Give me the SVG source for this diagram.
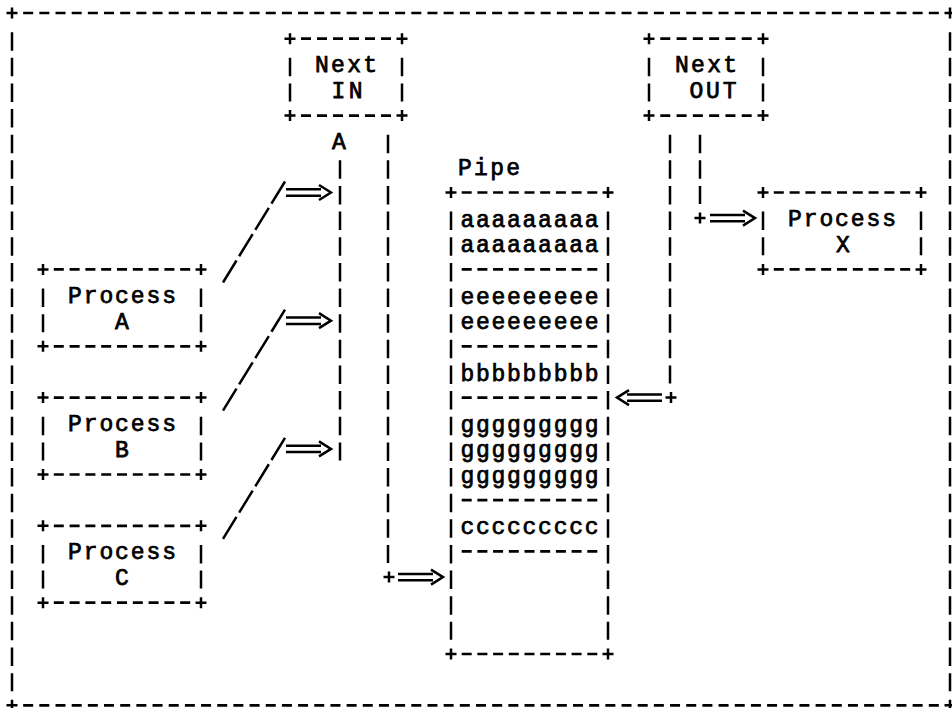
<svg xmlns="http://www.w3.org/2000/svg" xmlns:xlink="http://www.w3.org/1999/xlink" width="952" height="708" viewBox="0 0 952 708">
  <style>
    .ln { stroke: #000; stroke-width: 2.5; fill: none; }
    .h { stroke: #000; stroke-width: 2.7; fill: none; }
    .v { stroke: #000; stroke-width: 2.5; fill: none; stroke-dasharray: 18.5 7.14; }
    .sl { stroke: #000; stroke-width: 2.5; fill: none; stroke-dasharray: 25.9 5; }
    .t { font-family: "Liberation Mono", "DejaVu Sans Mono", monospace; font-size: 23px; fill: #000; stroke: #000; stroke-width: 0.75; text-anchor: middle; }
  </style>
  <defs>
    <path id="plus" class="ln" d="M-5.5,0H5.5M0,-5.5V5.5"/>
    <path id="arr-r" class="ln" d="M-45,-3.2H-10M-45,3.2H-10M-12,-7.5L0,0L-12,7.5"/>
    <path id="arr-l" class="ln" d="M45,-3.2H10M45,3.2H10M12,-7.5L0,0L12,7.5"/>
  </defs>
  <rect width="952" height="708" fill="#fff"/>

  <!-- outer frame -->
  <g id="frame">
    <line class="h" x1="23.17" y1="13" x2="938.83" y2="13" stroke-dasharray="10 6.172"/>
    <line class="h" x1="23.17" y1="705.3" x2="938.83" y2="705.3" stroke-dasharray="10 6.172"/>
    <line class="v" x1="12" y1="32.14" x2="12" y2="691.14"/>
    <line class="v" x1="950" y1="32.14" x2="950" y2="691.14"/>
    <use href="#plus" x="12" y="13"/>
    <use href="#plus" x="950" y="13"/>
    <use href="#plus" x="12" y="705.3"/>
    <use href="#plus" x="950" y="705.3"/>
  </g>

  <!-- Next IN -->
  <g id="next-in">
    <line class="h" x1="301" y1="38.64" x2="391" y2="38.64" stroke-dasharray="10 6"/>
    <line class="h" x1="301" y1="115.56" x2="391" y2="115.56" stroke-dasharray="10 6"/>
    <line class="v" x1="290" y1="57.78" x2="290" y2="101.42"/>
    <line class="v" x1="402" y1="57.78" x2="402" y2="101.42"/>
    <use href="#plus" x="290" y="38.64"/>
    <use href="#plus" x="402" y="38.64"/>
    <use href="#plus" x="290" y="115.56"/>
    <use href="#plus" x="402" y="115.56"/>
    <text class="t" x="346" y="72.3" textLength="62" lengthAdjust="spacing">Next</text>
    <text class="t" x="347" y="97.9" textLength="31" lengthAdjust="spacing">IN</text>
  </g>

  <!-- Next OUT -->
  <g id="next-out">
    <line class="h" x1="660.29" y1="38.64" x2="751.71" y2="38.64" stroke-dasharray="10 6.286"/>
    <line class="h" x1="660.29" y1="115.56" x2="751.71" y2="115.56" stroke-dasharray="10 6.286"/>
    <line class="v" x1="649" y1="57.78" x2="649" y2="101.42"/>
    <line class="v" x1="763" y1="57.78" x2="763" y2="101.42"/>
    <use href="#plus" x="649" y="38.64"/>
    <use href="#plus" x="763" y="38.64"/>
    <use href="#plus" x="649" y="115.56"/>
    <use href="#plus" x="763" y="115.56"/>
    <text class="t" x="706" y="72.3" textLength="62" lengthAdjust="spacing">Next</text>
    <text class="t" x="713" y="97.9" textLength="47" lengthAdjust="spacing">OUT</text>
  </g>

  <!-- Process X -->
  <g id="process-x">
    <line class="h" x1="773.8" y1="192.48" x2="910.2" y2="192.48" stroke-dasharray="10 5.8"/>
    <line class="h" x1="773.8" y1="269.4" x2="910.2" y2="269.4" stroke-dasharray="10 5.8"/>
    <line class="v" x1="763" y1="211.62" x2="763" y2="255.26"/>
    <line class="v" x1="921" y1="211.62" x2="921" y2="255.26"/>
    <use href="#plus" x="763" y="192.48"/>
    <use href="#plus" x="921" y="192.48"/>
    <use href="#plus" x="763" y="269.4"/>
    <use href="#plus" x="921" y="269.4"/>
    <text class="t" x="842" y="226.1" textLength="108" lengthAdjust="spacing">Process</text>
    <text class="t" x="843" y="251.8">X</text>
  </g>

  <!-- Process A -->
  <g id="process-a">
    <line class="h" x1="53.8" y1="269.4" x2="190.2" y2="269.4" stroke-dasharray="10 5.8"/>
    <line class="h" x1="53.8" y1="346.32" x2="190.2" y2="346.32" stroke-dasharray="10 5.8"/>
    <line class="v" x1="43" y1="288.54" x2="43" y2="332.18"/>
    <line class="v" x1="201" y1="288.54" x2="201" y2="332.18"/>
    <use href="#plus" x="43" y="269.4"/>
    <use href="#plus" x="201" y="269.4"/>
    <use href="#plus" x="43" y="346.32"/>
    <use href="#plus" x="201" y="346.32"/>
    <text class="t" x="122" y="303" textLength="108" lengthAdjust="spacing">Process</text>
    <text class="t" x="122" y="328.7">A</text>
  </g>

  <!-- Process B -->
  <g id="process-b">
    <line class="h" x1="53.8" y1="397.6" x2="190.2" y2="397.6" stroke-dasharray="10 5.8"/>
    <line class="h" x1="53.8" y1="474.52" x2="190.2" y2="474.52" stroke-dasharray="10 5.8"/>
    <line class="v" x1="43" y1="416.74" x2="43" y2="460.38"/>
    <line class="v" x1="201" y1="416.74" x2="201" y2="460.38"/>
    <use href="#plus" x="43" y="397.6"/>
    <use href="#plus" x="201" y="397.6"/>
    <use href="#plus" x="43" y="474.52"/>
    <use href="#plus" x="201" y="474.52"/>
    <text class="t" x="122" y="431.2" textLength="108" lengthAdjust="spacing">Process</text>
    <text class="t" x="122" y="456.9">B</text>
  </g>

  <!-- Process C -->
  <g id="process-c">
    <line class="h" x1="53.8" y1="525.8" x2="190.2" y2="525.8" stroke-dasharray="10 5.8"/>
    <line class="h" x1="53.8" y1="602.72" x2="190.2" y2="602.72" stroke-dasharray="10 5.8"/>
    <line class="v" x1="43" y1="544.94" x2="43" y2="588.58"/>
    <line class="v" x1="201" y1="544.94" x2="201" y2="588.58"/>
    <use href="#plus" x="43" y="525.8"/>
    <use href="#plus" x="201" y="525.8"/>
    <use href="#plus" x="43" y="602.72"/>
    <use href="#plus" x="201" y="602.72"/>
    <text class="t" x="122" y="559.4" textLength="108" lengthAdjust="spacing">Process</text>
    <text class="t" x="122" y="585.1">C</text>
  </g>

  <!-- Pipe with its queued records -->
  <g id="pipe">
    <text class="t" x="489" y="174.8" textLength="62" lengthAdjust="spacing">Pipe</text>
    <line class="h" x1="461.7" y1="192.48" x2="597.3" y2="192.48" stroke-dasharray="10 5.7"/>
    <line class="h" x1="461.7" y1="654" x2="597.3" y2="654" stroke-dasharray="10 5.7"/>
    <line class="v" x1="451" y1="211.62" x2="451" y2="639.86"/>
    <line class="v" x1="608" y1="211.62" x2="608" y2="639.86"/>
    <use href="#plus" x="451" y="192.48"/>
    <use href="#plus" x="608" y="192.48"/>
    <use href="#plus" x="451" y="654"/>
    <use href="#plus" x="608" y="654"/>
    <!-- record separators -->
    <line class="h" x1="461.7" y1="269.4" x2="597.3" y2="269.4" stroke-dasharray="10 5.7"/>
    <line class="h" x1="461.7" y1="346.32" x2="597.3" y2="346.32" stroke-dasharray="10 5.7"/>
    <line class="h" x1="461.7" y1="397.6" x2="597.3" y2="397.6" stroke-dasharray="10 5.7"/>
    <line class="h" x1="461.7" y1="500.16" x2="597.3" y2="500.16" stroke-dasharray="10 5.7"/>
    <line class="h" x1="461.7" y1="551.44" x2="597.3" y2="551.44" stroke-dasharray="10 5.7"/>
    <!-- records -->
    <text class="t" x="529.5" y="226.6" textLength="138" lengthAdjust="spacing">aaaaaaaaa</text>
    <text class="t" x="529.5" y="252.3" textLength="138" lengthAdjust="spacing">aaaaaaaaa</text>
    <text class="t" x="529.5" y="303.5" textLength="138" lengthAdjust="spacing">eeeeeeeee</text>
    <text class="t" x="529.5" y="329.2" textLength="138" lengthAdjust="spacing">eeeeeeeee</text>
    <text class="t" x="529.5" y="380.5" textLength="138" lengthAdjust="spacing">bbbbbbbbb</text>
    <text class="t" x="529.5" y="431.7" textLength="138" lengthAdjust="spacing">ggggggggg</text>
    <text class="t" x="529.5" y="457.4" textLength="138" lengthAdjust="spacing">ggggggggg</text>
    <text class="t" x="529.5" y="483" textLength="138" lengthAdjust="spacing">ggggggggg</text>
    <text class="t" x="529.5" y="534.3" textLength="138" lengthAdjust="spacing">ccccccccc</text>
  </g>

  <!-- connectors -->
  <g id="connectors">
    <!-- writers into Next IN -->
    <text class="t" x="339" y="149.2">A</text>
    <line class="v" x1="340" y1="160.34" x2="340" y2="460.38"/>
    <line class="sl" x1="285" y1="181.5" x2="223" y2="282.5"/>
    <line class="sl" x1="285" y1="309.7" x2="223" y2="410.7"/>
    <line class="sl" x1="285" y1="437.9" x2="223" y2="538.9"/>
    <use href="#arr-r" x="331" y="192.48"/>
    <use href="#arr-r" x="331" y="320.68"/>
    <use href="#arr-r" x="331" y="448.88"/>

    <!-- Next IN to the pipe tail -->
    <line class="v" x1="388" y1="134.7" x2="388" y2="562.94"/>
    <use href="#plus" x="389" y="577.08"/>
    <use href="#arr-r" x="443" y="577.08"/>

    <!-- pipe head to Next OUT -->
    <line class="v" x1="670" y1="134.7" x2="670" y2="383.46"/>
    <use href="#plus" x="671" y="397.6"/>
    <use href="#arr-l" x="617" y="397.6"/>

    <!-- Next OUT to Process X -->
    <line class="v" x1="700" y1="134.7" x2="700" y2="203.98"/>
    <use href="#plus" x="700" y="218.12"/>
    <use href="#arr-r" x="755" y="218.12"/>
  </g>
</svg>
